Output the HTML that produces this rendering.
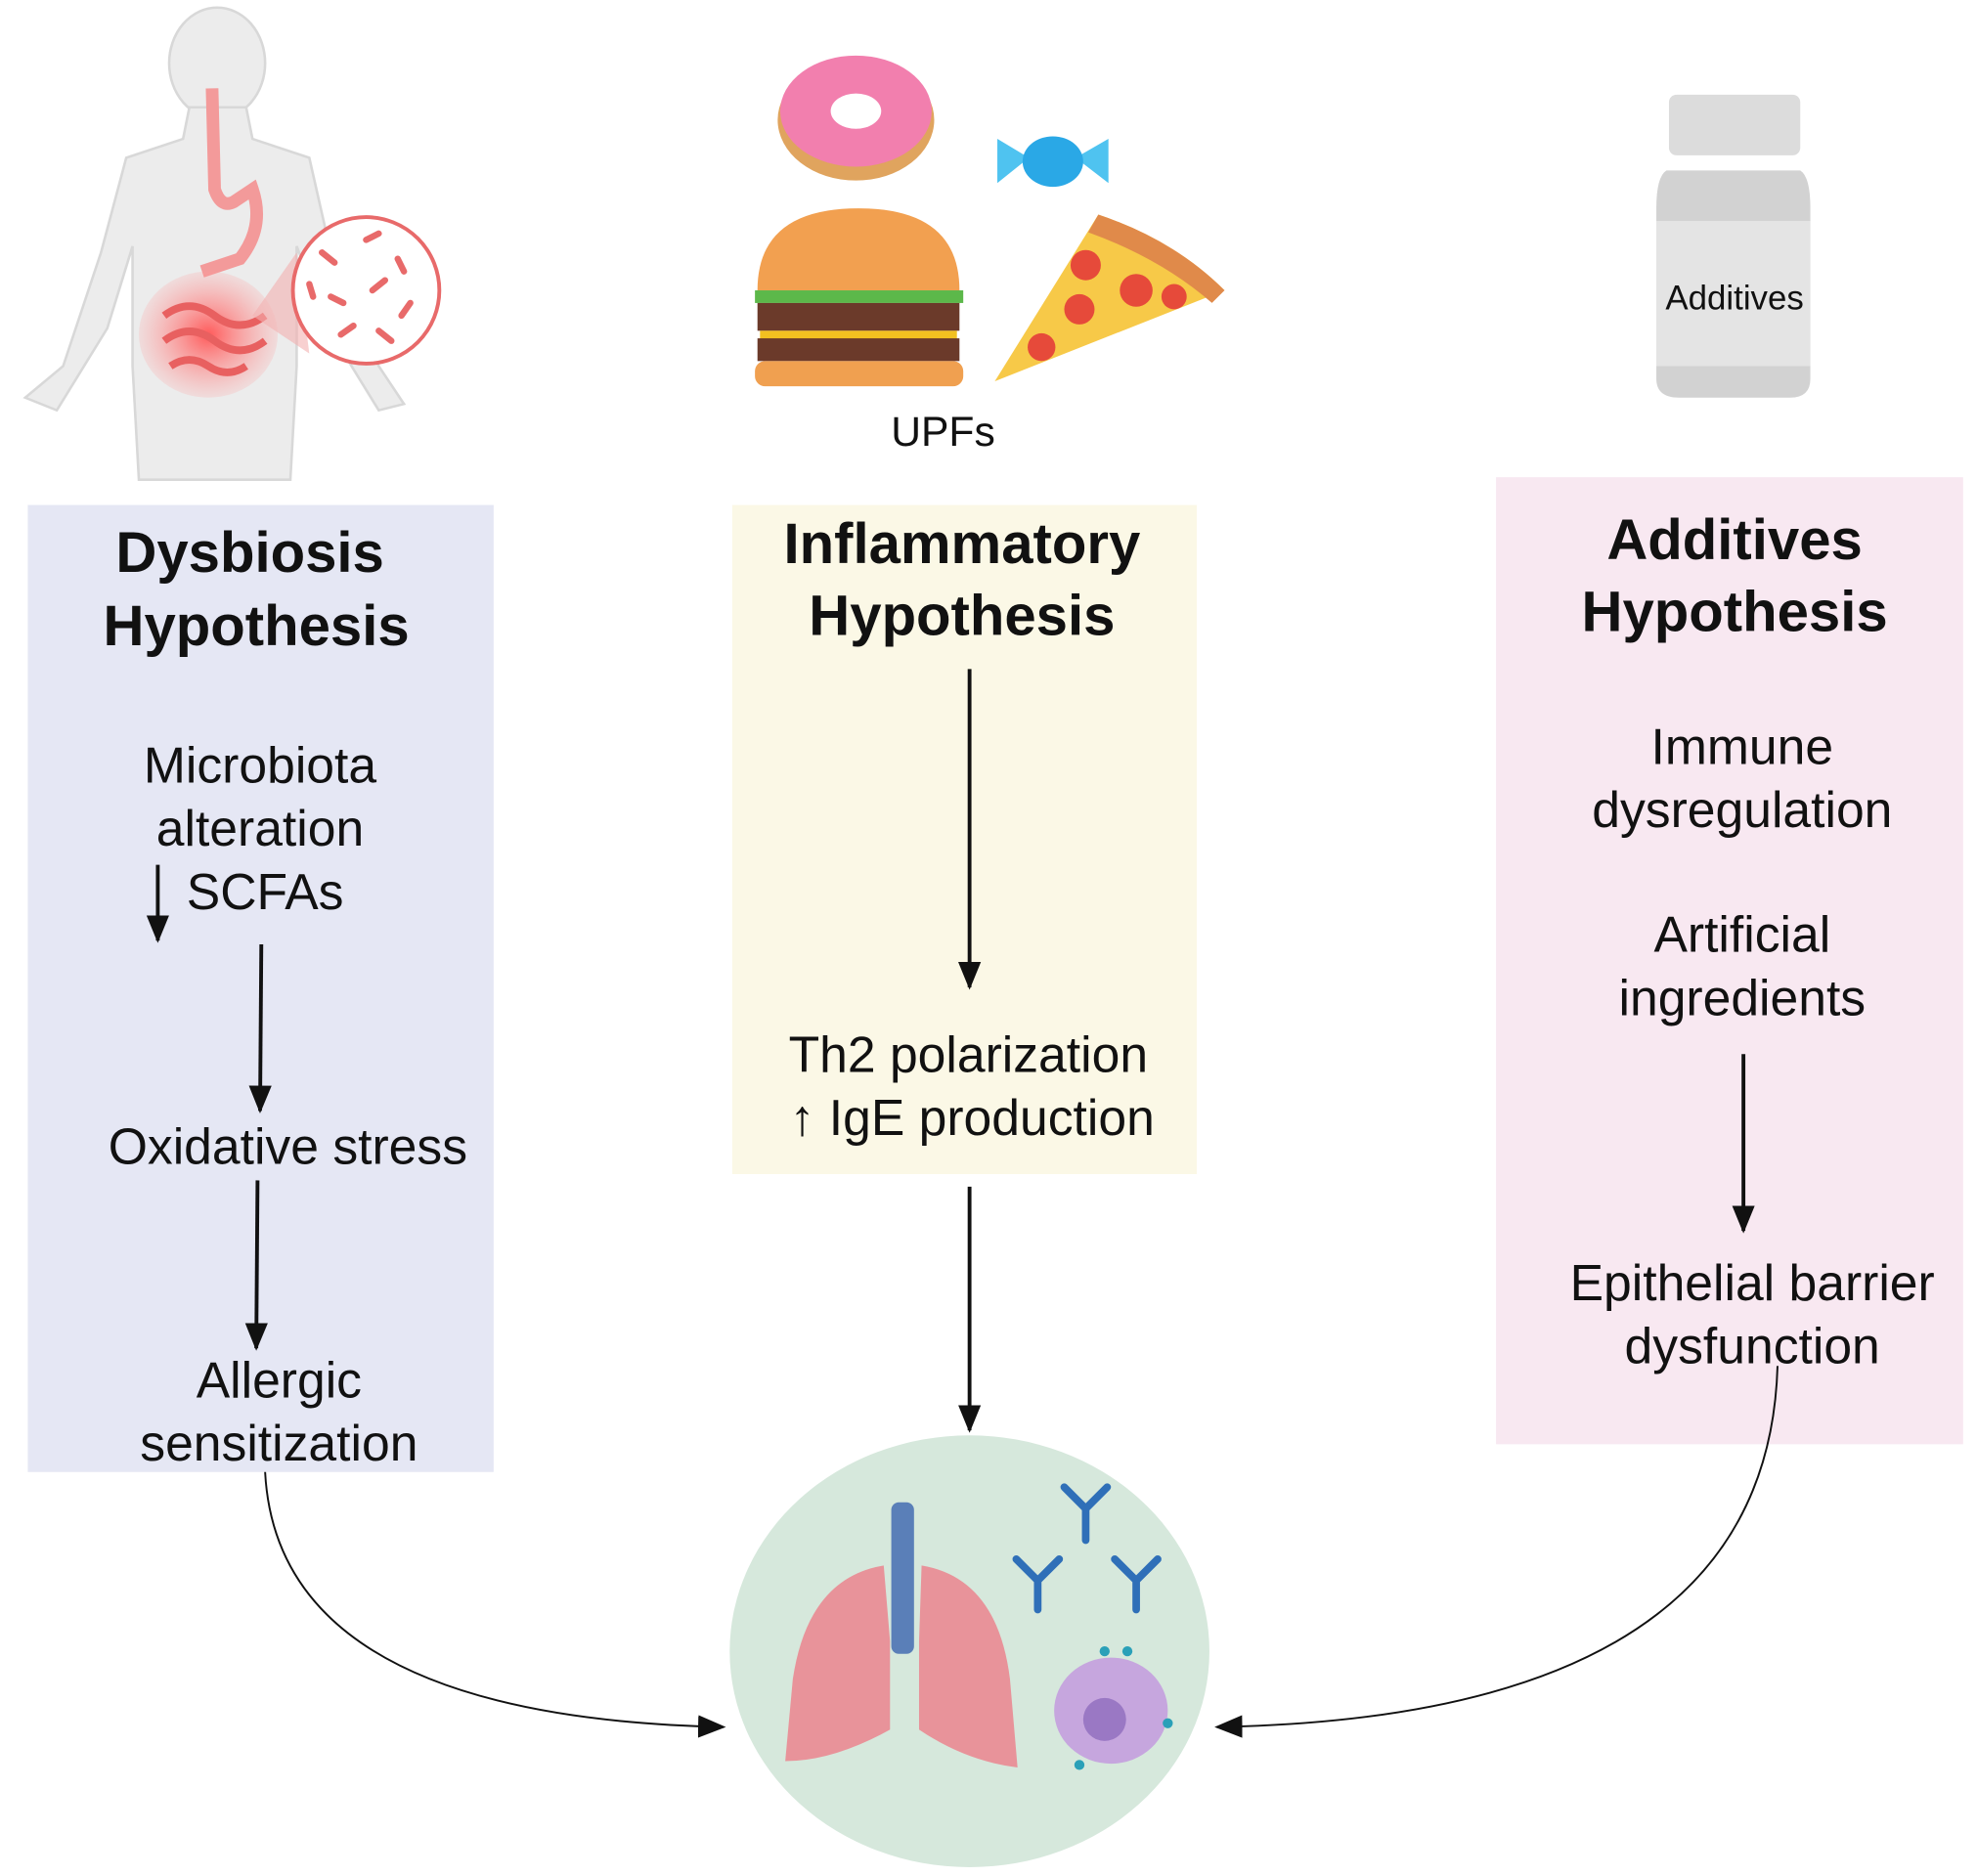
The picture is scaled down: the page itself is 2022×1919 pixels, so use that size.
<!DOCTYPE html>
<html><head><meta charset="utf-8"><style>
html,body{margin:0;padding:0;background:#fff;}
svg{display:block;}
text{font-family:"Liberation Sans",sans-serif;fill:#111;}
.t{font-weight:bold;font-size:45px;text-anchor:middle;}
.n{font-size:40px;text-anchor:middle;}
</style></head><body>
<svg width="2022" height="1919" viewBox="0 0 1566 1486" preserveAspectRatio="none">
<defs>
<marker id="ah2" markerWidth="22" markerHeight="22" refX="20" refY="11" orient="auto" markerUnits="userSpaceOnUse" viewBox="0 0 22 22">
<path d="M0,2 L22,11 L0,20 Z" fill="#111"/></marker>
<radialGradient id="rg" cx="0.5" cy="0.5" r="0.5"><stop offset="0" stop-color="#ff5a5a"/><stop offset="1" stop-color="#ff9a9a" stop-opacity="0.2"/></radialGradient>
</defs>

<rect x="22" y="400" width="369" height="766" fill="#e5e7f4"/>
<rect x="580" y="400" width="368" height="530" fill="#fbf8e6"/>
<rect x="1185" y="378" width="370" height="766" fill="#f8e8f1"/>
<ellipse cx="768" cy="1308" rx="190" ry="171" fill="#d6e8dc"/>

<g fill="#ececec" stroke="#d8d8d8" stroke-width="2">
<ellipse cx="172" cy="50" rx="38" ry="44"/>
<path d="M150,85 L195,85 L200,110 L245,125 L262,200 L300,290 L320,320 L300,325 L260,260 L235,195 L235,290 L230,380 L110,380 L105,290 L105,195 L85,260 L45,325 L20,315 L50,290 L80,200 L100,125 L145,110 Z"/>
</g>
<path d="M168,70 L170,150 Q175,165 185,160 L200,150 Q210,180 190,205 L160,215" fill="none" stroke="#f39a9a" stroke-width="10"/>
<ellipse cx="165" cy="265" rx="55" ry="50" fill="url(#rg)"/>
<path d="M130,250 q20,-15 40,0 q20,15 40,0 M130,270 q20,-15 40,0 q20,15 40,0 M135,290 q15,-10 30,0 q15,10 30,0" fill="none" stroke="#e86060" stroke-width="6"/>
<path d="M235,200 L200,250 L245,280 Z" fill="#f4b0b0" opacity="0.6"/>
<circle cx="290" cy="230" r="58" fill="#fff" stroke="#e86a6a" stroke-width="3"/>
<g stroke="#e86a6a" stroke-width="5" stroke-linecap="round">
<line x1="255" y1="200" x2="265" y2="208"/><line x1="290" y1="190" x2="300" y2="185"/><line x1="315" y1="205" x2="320" y2="215"/>
<line x1="262" y1="235" x2="272" y2="240"/><line x1="295" y1="230" x2="305" y2="222"/><line x1="325" y1="240" x2="318" y2="250"/>
<line x1="270" y1="265" x2="280" y2="258"/><line x1="300" y1="262" x2="310" y2="270"/><line x1="245" y1="225" x2="248" y2="235"/>
</g>

<ellipse cx="678" cy="95" rx="62" ry="48" fill="#e0a45e"/>
<ellipse cx="678" cy="88" rx="60" ry="44" fill="#f27fae"/>
<ellipse cx="678" cy="88" rx="20" ry="14" fill="#fff"/>
<path d="M790,110 L815,125 L790,145 Z M878,110 L852,125 L878,145 Z" fill="#4fc3f0"/>
<ellipse cx="834" cy="128" rx="24" ry="20" fill="#2aa8e6"/>
<path d="M600,230 Q600,165 680,165 Q760,165 760,230 Z" fill="#f2a050"/>
<rect x="598" y="230" width="165" height="10" fill="#5cb84a"/>
<rect x="600" y="240" width="160" height="22" fill="#6b3a2a"/>
<rect x="602" y="262" width="156" height="8" fill="#f2c020"/>
<rect x="600" y="268" width="160" height="18" fill="#6b3a2a"/>
<rect x="598" y="286" width="165" height="20" rx="8" fill="#f0a050"/>
<path d="M788,302 L870,170 Q930,190 970,230 Z" fill="#f7c948"/>
<path d="M870,170 Q930,190 970,230 L960,240 Q920,205 862,184 Z" fill="#e08a4a"/>
<circle cx="860" cy="210" r="12" fill="#e64a3a"/><circle cx="900" cy="230" r="13" fill="#e64a3a"/><circle cx="855" cy="245" r="12" fill="#e64a3a"/><circle cx="825" cy="275" r="11" fill="#e64a3a"/><circle cx="930" cy="235" r="10" fill="#e64a3a"/>
<text x="747" y="353" font-size="33" text-anchor="middle">UPFs</text>

<rect x="1322" y="75" width="104" height="48" rx="6" fill="#dcdcdc"/>
<path d="M1320,135 Q1312,140 1312,165 L1312,300 Q1312,315 1330,315 L1418,315 Q1434,315 1434,300 L1434,165 Q1434,140 1426,135 Z" fill="#d2d2d2"/>
<rect x="1312" y="175" width="122" height="115" fill="#e4e4e4"/>
<text x="1374" y="245" font-size="27" text-anchor="middle">Additives</text>

<text class="t" x="198" y="453">Dysbiosis</text>
<text class="t" x="203" y="511">Hypothesis</text>
<text class="n" x="206" y="620">Microbiota</text>
<text class="n" x="206" y="670">alteration</text>
<text class="n" x="210" y="720">SCFAs</text>
<line x1="125" y1="685" x2="125" y2="745" stroke="#111" stroke-width="3" marker-end="url(#ah2)"/>
<line x1="207" y1="748" x2="206" y2="880" stroke="#111" stroke-width="3" marker-end="url(#ah2)"/>
<text class="n" x="228" y="922">Oxidative stress</text>
<line x1="204" y1="935" x2="203" y2="1068" stroke="#111" stroke-width="3" marker-end="url(#ah2)"/>
<text class="n" x="221" y="1107">Allergic</text>
<text class="n" x="221" y="1157">sensitization</text>

<text class="t" x="762" y="446">Inflammatory</text>
<text class="t" x="762" y="503">Hypothesis</text>
<line x1="768" y1="530" x2="768" y2="782" stroke="#111" stroke-width="3" marker-end="url(#ah2)"/>
<text class="n" x="767" y="849">Th2 polarization</text>
<text class="n" x="770" y="899">↑ IgE production</text>
<line x1="768" y1="940" x2="768" y2="1133" stroke="#111" stroke-width="3" marker-end="url(#ah2)"/>

<text class="t" x="1374" y="443">Additives</text>
<text class="t" x="1374" y="500">Hypothesis</text>
<text class="n" x="1380" y="605">Immune</text>
<text class="n" x="1380" y="655">dysregulation</text>
<text class="n" x="1380" y="754">Artificial</text>
<text class="n" x="1380" y="804">ingredients</text>
<line x1="1381" y1="835" x2="1381" y2="975" stroke="#111" stroke-width="3" marker-end="url(#ah2)"/>
<text class="n" x="1388" y="1030">Epithelial barrier</text>
<text class="n" x="1388" y="1080">dysfunction</text>

<path d="M210,1166 Q220,1360 573,1368" fill="none" stroke="#111" stroke-width="1.5" marker-end="url(#ah2)"/>
<path d="M1408,1082 Q1400,1360 964,1368" fill="none" stroke="#111" stroke-width="1.5" marker-end="url(#ah2)"/>

<rect x="706" y="1190" width="18" height="120" rx="6" fill="#5a7fb8"/>
<path d="M700,1240 Q640,1250 628,1330 L622,1395 Q660,1395 705,1370 L705,1300 Z" fill="#e8939a"/>
<path d="M730,1240 Q790,1250 800,1330 L806,1400 Q765,1395 728,1370 L728,1300 Z" fill="#e8939a"/>
<g stroke="#2f6fb8" stroke-width="6" fill="none" stroke-linecap="round">
<path d="M860,1220 L860,1195 M860,1195 L843,1178 M860,1195 L877,1178"/>
<path d="M822,1275 L822,1252 M822,1252 L805,1235 M822,1252 L839,1235"/>
<path d="M900,1275 L900,1252 M900,1252 L883,1235 M900,1252 L917,1235"/>
</g>
<ellipse cx="880" cy="1355" rx="45" ry="42" fill="#c6a6de"/>
<circle cx="875" cy="1362" r="17" fill="#9a78c4"/>
<g fill="#2aa0b8"><circle cx="875" cy="1308" r="4"/><circle cx="893" cy="1308" r="4"/><circle cx="925" cy="1365" r="4"/><circle cx="855" cy="1398" r="4"/></g>
</svg>
</body></html>
